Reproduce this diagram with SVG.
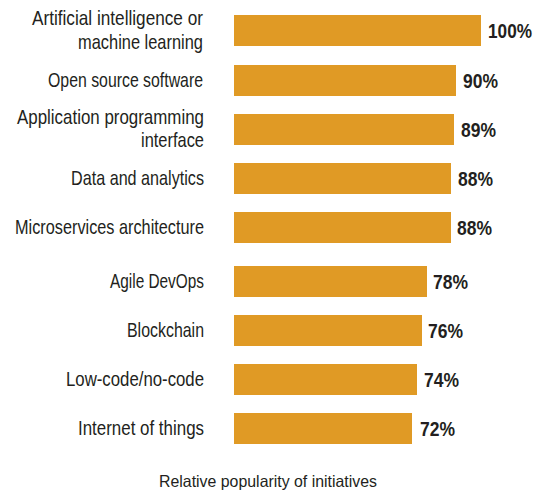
<svg xmlns="http://www.w3.org/2000/svg" width="539" height="493" viewBox="0 0 539 493">
<style>
.bar{fill:#e09a25}
.lbl{font-family:"Liberation Sans",Arial,sans-serif;font-size:21px;fill:#231f20;text-anchor:end}
.val{font-family:"Liberation Sans",Arial,sans-serif;font-size:19.5px;font-weight:bold;fill:#231f20}
.ttl{font-family:"Liberation Sans",Arial,sans-serif;font-size:16.5px;fill:#231f20}
</style>
<rect width="539" height="493" fill="#ffffff"/>
<g id="ai">
<rect class="bar" x="234" y="15" width="247" height="31"/>
<text class="lbl" x="203" y="25" textLength="171" lengthAdjust="spacingAndGlyphs">Artificial intelligence or</text>
<text class="lbl" x="203" y="49" textLength="125" lengthAdjust="spacingAndGlyphs">machine learning</text>
<text class="val" x="488" y="38" textLength="44" lengthAdjust="spacingAndGlyphs">100%</text>
</g>
<g id="oss">
<rect class="bar" x="234" y="65" width="222" height="31"/>
<text class="lbl" x="203" y="87" textLength="155" lengthAdjust="spacingAndGlyphs">Open source software</text>
<text class="val" x="463" y="88" textLength="35" lengthAdjust="spacingAndGlyphs">90%</text>
</g>
<g id="api">
<rect class="bar" x="234" y="114" width="220" height="31"/>
<text class="lbl" x="204" y="124" textLength="187" lengthAdjust="spacingAndGlyphs">Application programming</text>
<text class="lbl" x="204" y="147" textLength="63" lengthAdjust="spacingAndGlyphs">interface</text>
<text class="val" x="461" y="137" textLength="35" lengthAdjust="spacingAndGlyphs">89%</text>
</g>
<g id="data">
<rect class="bar" x="234" y="163" width="217" height="31"/>
<text class="lbl" x="204" y="185" textLength="133" lengthAdjust="spacingAndGlyphs">Data and analytics</text>
<text class="val" x="458" y="186" textLength="35" lengthAdjust="spacingAndGlyphs">88%</text>
</g>
<g id="micro">
<rect class="bar" x="234" y="212" width="217" height="31"/>
<text class="lbl" x="204" y="234" textLength="189" lengthAdjust="spacingAndGlyphs">Microservices architecture</text>
<text class="val" x="457" y="235" textLength="35" lengthAdjust="spacingAndGlyphs">88%</text>
</g>
<g id="agile">
<rect class="bar" x="234" y="266" width="193" height="31"/>
<text class="lbl" x="204" y="288" textLength="94" lengthAdjust="spacingAndGlyphs">Agile DevOps</text>
<text class="val" x="433" y="289" textLength="35" lengthAdjust="spacingAndGlyphs">78%</text>
</g>
<g id="blockchain">
<rect class="bar" x="234" y="315" width="188" height="31"/>
<text class="lbl" x="204" y="337" textLength="77" lengthAdjust="spacingAndGlyphs">Blockchain</text>
<text class="val" x="428" y="338" textLength="35" lengthAdjust="spacingAndGlyphs">76%</text>
</g>
<g id="lowcode">
<rect class="bar" x="234" y="364" width="183" height="31"/>
<text class="lbl" x="204" y="386" textLength="138" lengthAdjust="spacingAndGlyphs">Low-code/no-code</text>
<text class="val" x="424" y="387" textLength="35" lengthAdjust="spacingAndGlyphs">74%</text>
</g>
<g id="iot">
<rect class="bar" x="234" y="413" width="178" height="31"/>
<text class="lbl" x="204" y="435" textLength="126" lengthAdjust="spacingAndGlyphs">Internet of things</text>
<text class="val" x="420" y="436" textLength="35" lengthAdjust="spacingAndGlyphs">72%</text>
</g>
<text class="ttl" x="159" y="487" textLength="218" lengthAdjust="spacingAndGlyphs">Relative popularity of initiatives</text>
</svg>
